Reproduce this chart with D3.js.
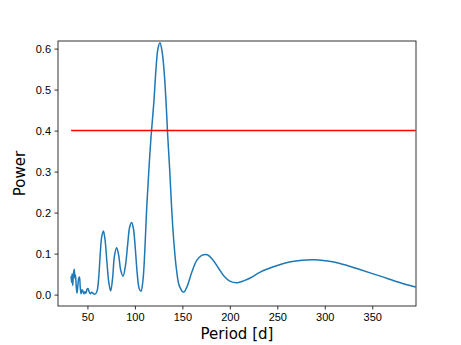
<!DOCTYPE html>
<html lang="en">
<head>
  <meta charset="UTF-8">
  <title>Periodogram</title>
  <script src="https://d3js.org/d3.v7.min.js"></script>
  <style>
    body { margin: 0; background: #fff; }
    svg { display: block; font-family: "DejaVu Sans", sans-serif; }
    .tick text { font-size: 11px; fill: #000; }
    .tick line, .domain { stroke: #000; stroke-width: 0.8px; }
    .power-line { fill: none; stroke: #1f77b4; stroke-width: 1.5px; }
    .thresh-line { stroke: #ff0000; stroke-width: 1.5px; }
    .axis-label { font-size: 15px; fill: #000; }
  </style>
</head>
<body>
  <svg id="chart" width="461" height="345"></svg>
  <script>
    // periods [d]
    const periods = [
      32.8, 33.3, 33.8, 34.5, 35.3, 36.1, 36.8, 37.4, 38.2, 39.0,
      39.9, 40.8, 41.6, 42.4, 43.3, 44.3, 45.3, 46.3, 47.3, 48.4,
      49.6, 50.6, 51.8, 53.0, 54.5, 56.0, 57.5, 59.0, 60.5, 62.0,
      63.5, 65.0, 66.8, 68.5, 70.5, 72.5, 74.5, 76.5, 78.5, 80.8,
      83.0, 85.0, 87.5, 90.0, 92.5, 94.5, 96.6, 98.5, 100.5, 102.5,
      104.5, 106.4, 108.5, 110.5, 112.5, 114.8, 117.0, 120.0, 122.2, 124.3,
      126.4, 128.5, 130.6, 132.8, 134.5, 136.6, 138.5, 140.5, 143.7, 147.0,
      151.4, 155.0, 160.0, 165.0, 170.0, 176.3, 182.0, 188.0, 194.0, 200.0,
      207.9, 215.0, 222.0, 232.0, 250.0, 264.0, 276.0, 290.0, 303.0, 316.0,
      337.0, 358.5, 379.6, 395.6
    ];
    const power = [
      0.045, 0.030, 0.050, 0.022, 0.052, 0.062, 0.040, 0.048, 0.020, 0.004,
      0.022, 0.040, 0.043, 0.018, 0.002, 0.012, 0.008, 0.002, 0.007, 0.003,
      0.013, 0.015, 0.007, 0.002, 0.006, 0.003, 0.001, 0.003, 0.012, 0.045,
      0.100, 0.140, 0.155, 0.135, 0.080, 0.030, 0.009, 0.040, 0.095, 0.114,
      0.095, 0.060, 0.045, 0.070, 0.125, 0.165, 0.176, 0.160, 0.110, 0.050,
      0.015, 0.008, 0.035, 0.110, 0.215, 0.307, 0.385, 0.470, 0.550, 0.600,
      0.614, 0.595, 0.550, 0.470, 0.390, 0.307, 0.220, 0.145, 0.063, 0.020,
      0.006, 0.020, 0.055, 0.083, 0.095, 0.097, 0.085, 0.065, 0.045, 0.033,
      0.029, 0.034, 0.041, 0.055, 0.071, 0.080, 0.084, 0.085, 0.082, 0.076,
      0.061, 0.045, 0.029, 0.0185
    ];
    const threshold = 0.40;
    const xTicks = [50, 100, 150, 200, 250, 300, 350];
    const yTicks = [0.0, 0.1, 0.2, 0.3, 0.4, 0.5, 0.6];

    const margin = { top: 41, right: 45, bottom: 39, left: 58 };
    const width = 461, height = 345;
    const svg = d3.select('#chart');

    const x = d3.scaleLinear().domain([19, 396.1])
      .range([margin.left, width - margin.right]);
    const y = d3.scaleLinear().domain([-0.0278, 0.6185])
      .range([height - margin.bottom, margin.top]);

    const data = periods.map((p, i) => ({ p, v: power[i] }));

    const line = d3.line()
      .x(d => x(d.p))
      .y(d => y(d.v))
      .curve(d3.curveCatmullRom.alpha(0.5));

    svg.append('path')
      .datum(data)
      .attr('class', 'power-line')
      .attr('d', line);

    svg.append('line')
      .attr('class', 'thresh-line')
      .attr('x1', x(d3.min(periods))).attr('x2', x(d3.max(periods)))
      .attr('y1', y(threshold)).attr('y2', y(threshold));

    // axes box
    svg.append('rect')
      .attr('x', margin.left).attr('y', margin.top)
      .attr('width', width - margin.left - margin.right)
      .attr('height', height - margin.top - margin.bottom)
      .attr('fill', 'none').attr('stroke', '#000').attr('stroke-width', 0.8);

    svg.append('g')
      .attr('transform', `translate(0,${height - margin.bottom})`)
      .call(d3.axisBottom(x).tickValues(xTicks).tickSize(3.5).tickPadding(3.5)
        .tickFormat(d3.format('d')))
      .call(g => g.select('.domain').remove());

    svg.append('g')
      .attr('transform', `translate(${margin.left},0)`)
      .call(d3.axisLeft(y).tickValues(yTicks).tickSize(3.5).tickPadding(3.5)
        .tickFormat(d3.format('.1f')))
      .call(g => g.select('.domain').remove());

    svg.append('text')
      .attr('class', 'axis-label')
      .attr('x', (margin.left + width - margin.right) / 2)
      .attr('y', 339)
      .attr('text-anchor', 'middle')
      .text('Period [d]');

    svg.append('text')
      .attr('class', 'axis-label')
      .attr('transform', `translate(25,${(margin.top + height - margin.bottom) / 2}) rotate(-90)`)
      .attr('text-anchor', 'middle')
      .text('Power');
  </script>
</body>
</html>
